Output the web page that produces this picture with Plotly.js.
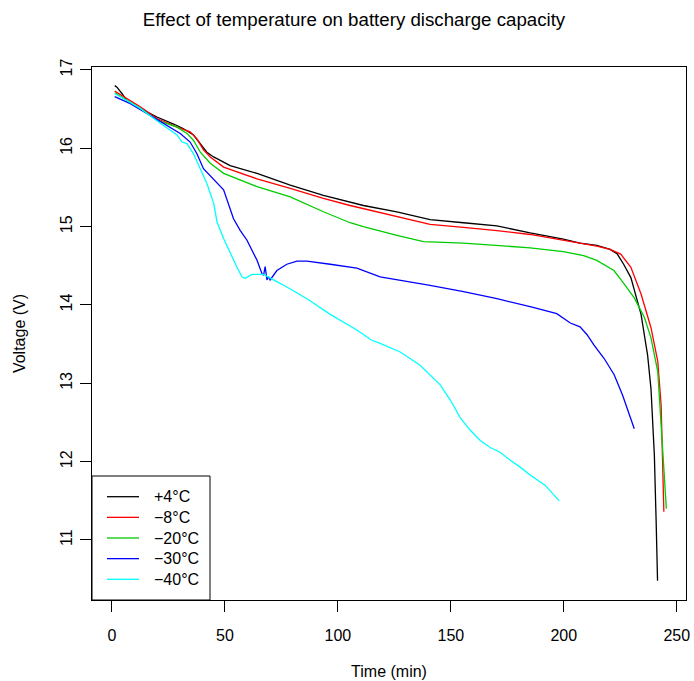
<!DOCTYPE html>
<html><head><meta charset="utf-8">
<script src="https://cdn.plot.ly/plotly-3.0.1.min.js"></script>
<style>body{margin:0;padding:0;background:#fff}</style>
</head><body>
<div id="chart" style="width:694px;height:681px"></div>
<script>
// ---- data ----
const seriesLabels = ["+4\u00B0C", "\u22128\u00B0C", "\u221220\u00B0C", "\u221230\u00B0C", "\u221240\u00B0C"];
const seriesColors = ["#000000", "#FF0000", "#00CD00", "#0000FF", "#00FFFF"];

const timeP4 = [1.2, 2.2, 4.4, 6.6, 12.5, 19.9, 27.3, 31.7, 36.1, 39.1, 42, 45, 52.3, 64.2, 78.9, 93.6, 111.3, 126.1, 140.8, 155.6, 170.4, 185.1, 199.8, 207.2, 214.6, 220.5, 223.7, 226.5, 229.7, 234.2, 237.1, 238.6, 240.1, 240.9, 241.5];
const voltP4 = [16.80, 16.78, 16.70, 16.61, 16.51, 16.40, 16.31, 16.25, 16.17, 16.06, 15.95, 15.89, 15.78, 15.68, 15.53, 15.40, 15.27, 15.19, 15.09, 15.05, 15.01, 14.92, 14.84, 14.79, 14.76, 14.71, 14.65, 14.52, 14.35, 13.88, 13.36, 12.93, 12.08, 11.22, 10.48];

const timeM8 = [1.2, 5.1, 12.5, 19.9, 28.8, 34.6, 37.6, 40.5, 43.5, 49.4, 56.8, 64.2, 78.9, 93.6, 105.4, 111.3, 126.1, 140.8, 155.6, 170.4, 185.1, 199.8, 214.6, 220.5, 225.2, 229.7, 234.2, 238.6, 241.6, 243.1, 243.8, 244.3];
const voltM8 = [16.73, 16.66, 16.53, 16.38, 16.27, 16.21, 16.12, 15.98, 15.89, 15.76, 15.68, 15.61, 15.49, 15.36, 15.27, 15.23, 15.12, 15.03, 14.99, 14.95, 14.90, 14.83, 14.75, 14.71, 14.65, 14.48, 14.14, 13.71, 13.28, 12.72, 12.08, 11.36];

const timeM20 = [1.2, 5.1, 12.5, 19.9, 28.8, 33.2, 36.1, 39.1, 43.5, 49.4, 64.2, 78.9, 93.6, 105.4, 111.3, 126.1, 137.9, 155.6, 170.4, 185.1, 199.8, 208.8, 214.6, 222.2, 226.7, 231.2, 235.7, 238.6, 241.6, 243.1, 244.6, 245.4];
const voltM20 = [16.71, 16.64, 16.51, 16.36, 16.27, 16.19, 16.10, 15.95, 15.81, 15.68, 15.51, 15.38, 15.19, 15.05, 15.00, 14.89, 14.81, 14.79, 14.76, 14.73, 14.68, 14.63, 14.57, 14.44, 14.27, 14.09, 13.84, 13.58, 13.15, 12.51, 11.86, 11.40];

const timeM30 = [1.2, 8.1, 16.9, 24.3, 30.2, 34.6, 37.6, 40.5, 45, 49.4, 53.8, 56.8, 59.7, 62.7, 64.2, 66.4, 67.1, 67.8, 68.6, 69.3, 70.0, 73, 77.4, 81.9, 86.3, 96.6, 108.4, 118.7, 126.1, 140.8, 155.6, 170.4, 185.1, 196.9, 202.9, 207.2, 210.3, 213.3, 217.8, 222.3, 226, 229, 231.2];
const voltM30 = [16.66, 16.57, 16.42, 16.29, 16.19, 16.08, 15.93, 15.74, 15.61, 15.47, 15.10, 14.95, 14.83, 14.66, 14.57, 14.40, 14.38, 14.49, 14.32, 14.36, 14.32, 14.44, 14.52, 14.56, 14.56, 14.52, 14.47, 14.36, 14.32, 14.25, 14.17, 14.08, 13.98, 13.89, 13.77, 13.72, 13.62, 13.49, 13.32, 13.11, 12.85, 12.59, 12.42];

const timeM40 = [1.2, 12.5, 21.4, 28.8, 31, 33.2, 36.1, 39.1, 42, 45, 46.5, 49.4, 52.3, 55, 57.5, 59, 61.9, 67.1, 71.5, 77.4, 86.3, 96.6, 108.4, 115, 118.7, 127.6, 136.4, 145.3, 149.7, 154.2, 158.6, 163, 167.4, 171.8, 176.2, 180.7, 185.1, 191.7, 198];
const voltM40 = [16.70, 16.51, 16.32, 16.17, 16.08, 16.06, 15.93, 15.74, 15.55, 15.30, 15.06, 14.85, 14.66, 14.50, 14.36, 14.34, 14.39, 14.39, 14.32, 14.23, 14.08, 13.88, 13.68, 13.55, 13.51, 13.40, 13.23, 12.98, 12.79, 12.56, 12.40, 12.27, 12.18, 12.12, 12.02, 11.93, 11.83, 11.70, 11.50];

const xTickVals = [0, 50, 100, 150, 200, 250];
const yTickVals = [11, 12, 13, 14, 15, 16, 17];

const times = [timeP4, timeM8, timeM20, timeM30, timeM40];
const volts = [voltP4, voltM8, voltM20, voltM30, voltM40];

// ---- figure ----
const W = 694, H = 681;
const M = {l: 92, r: 8, t: 67, b: 81};
const PW = W - M.l - M.r, PH = H - M.t - M.b;
const px2x = p => (p - M.l) / PW;
const py2y = p => (H - M.b - p) / PH;

const FONT = "Liberation Sans, Arial, Helvetica, sans-serif";

const traces = times.map((t, i) => ({
  x: t, y: volts[i], type: "scatter", mode: "lines",
  name: seriesLabels[i], showlegend: false,
  line: {color: seriesColors[i], width: 1.3}
}));

// hand-drawn R-style legend (box in bottom-left corner)
const shapes = [{
  type: "rect", xref: "paper", yref: "paper",
  x0: 0, x1: px2x(210), y0: 0, y1: py2y(476),
  line: {color: "#000", width: 1}, fillcolor: "#fff", layer: "above"
}];
const annotations = [];
seriesLabels.forEach((lab, i) => {
  const yy = py2y(496.7 + i * 20.65);
  shapes.push({type: "line", xref: "paper", yref: "paper",
    x0: px2x(107), x1: px2x(139), y0: yy, y1: yy,
    line: {color: seriesColors[i], width: 1.3}, layer: "above"});
  annotations.push({xref: "paper", yref: "paper", x: px2x(152), y: yy,
    xanchor: "left", yanchor: "middle", showarrow: false, text: lab,
    font: {family: FONT, size: 16, color: "#000"}});
});

const layout = {
  width: W, height: H,
  margin: M,
  paper_bgcolor: "#fff", plot_bgcolor: "#fff",
  font: {family: FONT, size: 16, color: "#000"},
  title: {text: "Effect of temperature on battery discharge capacity",
    font: {family: FONT, size: 18.7, color: "#000"},
    x: 354 / W, xref: "container", xanchor: "center",
    y: 1 - 19 / H, yref: "container", yanchor: "middle"},
  xaxis: {
    range: [-8.85, 254.1], tickmode: "array", tickvals: xTickVals,
    ticks: "outside", ticklen: 11, tickwidth: 1, tickcolor: "#000",
    ticklabelstandoff: 10,
    showline: true, mirror: true, linecolor: "#000", linewidth: 1,
    showgrid: false, zeroline: false,
    tickfont: {family: FONT, size: 16, color: "#000"},
    title: {text: "Time (min)", font: {family: FONT, size: 16, color: "#000"}, standoff: 22},
    automargin: false
  },
  yaxis: {
    range: [10.234, 17.038], tickmode: "array", tickvals: yTickVals,
    ticks: "outside", ticklen: 11, tickwidth: 1, tickcolor: "#000",
    tickangle: -90, ticklabelstandoff: 2,
    showline: true, mirror: true, linecolor: "#000", linewidth: 1,
    showgrid: false, zeroline: false,
    tickfont: {family: FONT, size: 16, color: "#000"},
    title: {text: "Voltage (V)", font: {family: FONT, size: 16, color: "#000"}, standoff: 27},
    automargin: false
  },
  shapes: shapes,
  annotations: annotations
};

Plotly.newPlot("chart", traces, layout, {staticPlot: true, displayModeBar: false});
</script>
</body></html>
